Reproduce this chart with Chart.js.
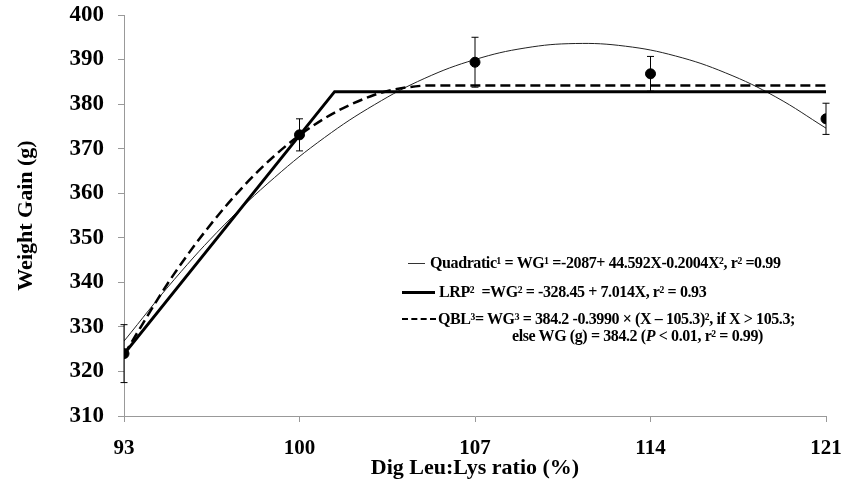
<!DOCTYPE html>
<html>
<head>
<meta charset="utf-8">
<script src="https://cdn.jsdelivr.net/npm/chart.js@4.4.1/dist/chart.umd.min.js"></script>
<style>
  html, body { margin: 0; padding: 0; background: #fff; }
  #wrap { position: relative; width: 845px; height: 492px; }
  .leg { position: absolute; white-space: nowrap; font-family: 'Liberation Serif', 'Times New Roman', serif;
         font-weight: bold; font-size: 16px; line-height: 18px; color: #000; letter-spacing: -0.4px; }
  .swatch { position: absolute; }
</style>
</head>
<body>
<div id="wrap">
  <canvas id="wgChart" width="845" height="492"></canvas>
  <!-- legend equations -->
  <div class="swatch" style="left:408px; top:263px; width:17px; border-top:1px solid #333;"></div>
  <div class="leg" style="left:430px; top:254px;">Quadratic¹ = WG¹ =-2087+ 44.592X-0.2004X², r² =0.99</div>
  <div class="swatch" style="left:402px; top:291px; width:33px; border-top:3px solid #000;"></div>
  <div class="leg" style="left:439px; top:283px;">LRP² &nbsp;=WG² = -328.45 + 7.014X, r² = 0.93</div>
  <div class="swatch" style="left:402px; top:318px; width:34px; border-top:2.5px dashed #000;"></div>
  <div class="leg" style="left:438px; top:310px;">QBL³= WG³ = 384.2 -0.3990 × (X – 105.3)², if X &gt; 105.3;</div>
  <div class="leg" style="left:512px; top:327px;">else WG (g) = 384.2 (<i>P</i> &lt; 0.01, r² = 0.99)</div>
</div>
<script>
// x axis ticks (Dig Leu:Lys ratio, %)
const xTicks = [93, 100, 107, 114, 121];

// observed means and error bars
const obsX = [93, 100, 107, 114, 121];
const obsWG = [324.0, 373.1, 389.4, 386.8, 376.7];
const obsErr = [6.5, 3.6, 5.6, 3.9, 3.5];

// quadratic fit
const quadX = [93, 95, 97, 99, 101, 103, 105, 107, 109, 111, 113, 115, 117, 119, 121];
const quadWG = [326.8, 340.6, 352.9, 363.5, 372.5, 379.9, 385.8, 390.0, 392.6, 393.6, 393.0, 390.8, 387.0, 381.6, 374.6];

// linear response plateau
const lrpX = [93, 101.4, 121];
const lrpWG = [323.9, 382.8, 382.8];

// quadratic broken line
const qblX = [93, 95, 97, 99, 101, 103, 104, 105.3, 121];
const qblWG = [323.8, 341.9, 356.7, 368.4, 376.8, 382.1, 383.5, 384.2, 384.2];

const toXY = (xs, ys) => xs.map((x, i) => ({ x: x, y: ys[i] }));

const errorBars = {
    id: 'errorBars',
    afterDatasetsDraw(chart) {
        const ctx = chart.ctx;
        const xs = chart.scales.x, ys = chart.scales.y;
        ctx.save();
        ctx.strokeStyle = '#000';
        ctx.lineWidth = 1;
        obsX.forEach((x, i) => {
            const px = xs.getPixelForValue(x);
            const top = ys.getPixelForValue(obsWG[i] + obsErr[i]);
            const bot = ys.getPixelForValue(obsWG[i] - obsErr[i]);
            ctx.beginPath();
            ctx.moveTo(px, top); ctx.lineTo(px, bot);
            ctx.moveTo(px - 3.5, top); ctx.lineTo(px + 3.5, top);
            ctx.moveTo(px - 3.5, bot); ctx.lineTo(px + 3.5, bot);
            ctx.stroke();
        });
        ctx.restore();
    }
};

const tickFont = { family: "'Liberation Serif', 'Times New Roman', serif", weight: 'bold', size: 21 };
const titleFont = { family: "'Liberation Serif', 'Times New Roman', serif", weight: 'bold', size: 22 };

new Chart(document.getElementById('wgChart'), {
    type: 'scatter',
    data: {
        datasets: [
            {
                label: 'Observed',
                data: toXY(obsX, obsWG),
                showLine: false,
                pointRadius: 5,
                pointBackgroundColor: '#000',
                pointBorderColor: '#000',
                order: 0
            },
            {
                label: 'Quadratic',
                data: toXY(quadX, quadWG),
                showLine: true,
                tension: 0.4,
                borderColor: '#222',
                borderWidth: 1,
                pointRadius: 0,
                order: 3
            },
            {
                label: 'LRP',
                data: toXY(lrpX, lrpWG),
                showLine: true,
                borderColor: '#000',
                borderWidth: 3,
                pointRadius: 0,
                order: 2
            },
            {
                label: 'QBL',
                data: toXY(qblX, qblWG),
                showLine: true,
                cubicInterpolationMode: 'monotone',
                borderColor: '#000',
                borderWidth: 2.5,
                borderDash: [10, 5],
                pointRadius: 0,
                order: 1
            }
        ]
    },
    options: {
        responsive: false,
        animation: false,
        devicePixelRatio: 1,
        layout: { padding: { top: 15, right: 19, left: 0, bottom: 0 } },
        plugins: {
            legend: { display: false },
            tooltip: { enabled: false }
        },
        scales: {
            x: {
                type: 'linear',
                min: 93,
                max: 121,
                afterBuildTicks: scale => { scale.ticks = xTicks.map(v => ({ value: v })); },
                afterFit: scale => {
                    scale.height = 76;
                    scale.paddingLeft = 0;
                    scale.paddingRight = 0;
                },
                border: { color: '#999', width: 1 },
                grid: { drawOnChartArea: false, tickLength: 6, color: '#999' },
                ticks: { font: tickFont, color: '#000', padding: 14 },
                title: { display: true, text: 'Dig Leu:Lys ratio (%)', font: titleFont, color: '#000', padding: { bottom: 10 } }
            },
            y: {
                min: 310,
                max: 400,
                afterFit: scale => {
                    scale.width = 124;
                    scale.paddingTop = 0;
                    scale.paddingBottom = 0;
                },
                border: { color: '#999', width: 1 },
                grid: { drawOnChartArea: false, tickLength: 6, color: '#999' },
                ticks: { stepSize: 10, font: { ...tickFont, size: 23 }, color: '#000', padding: 14 },
                title: { display: true, text: 'Weight Gain (g)', font: titleFont, color: '#000', padding: { top: 13 } }
            }
        }
    },
    plugins: [errorBars]
});
</script>
</body>
</html>
